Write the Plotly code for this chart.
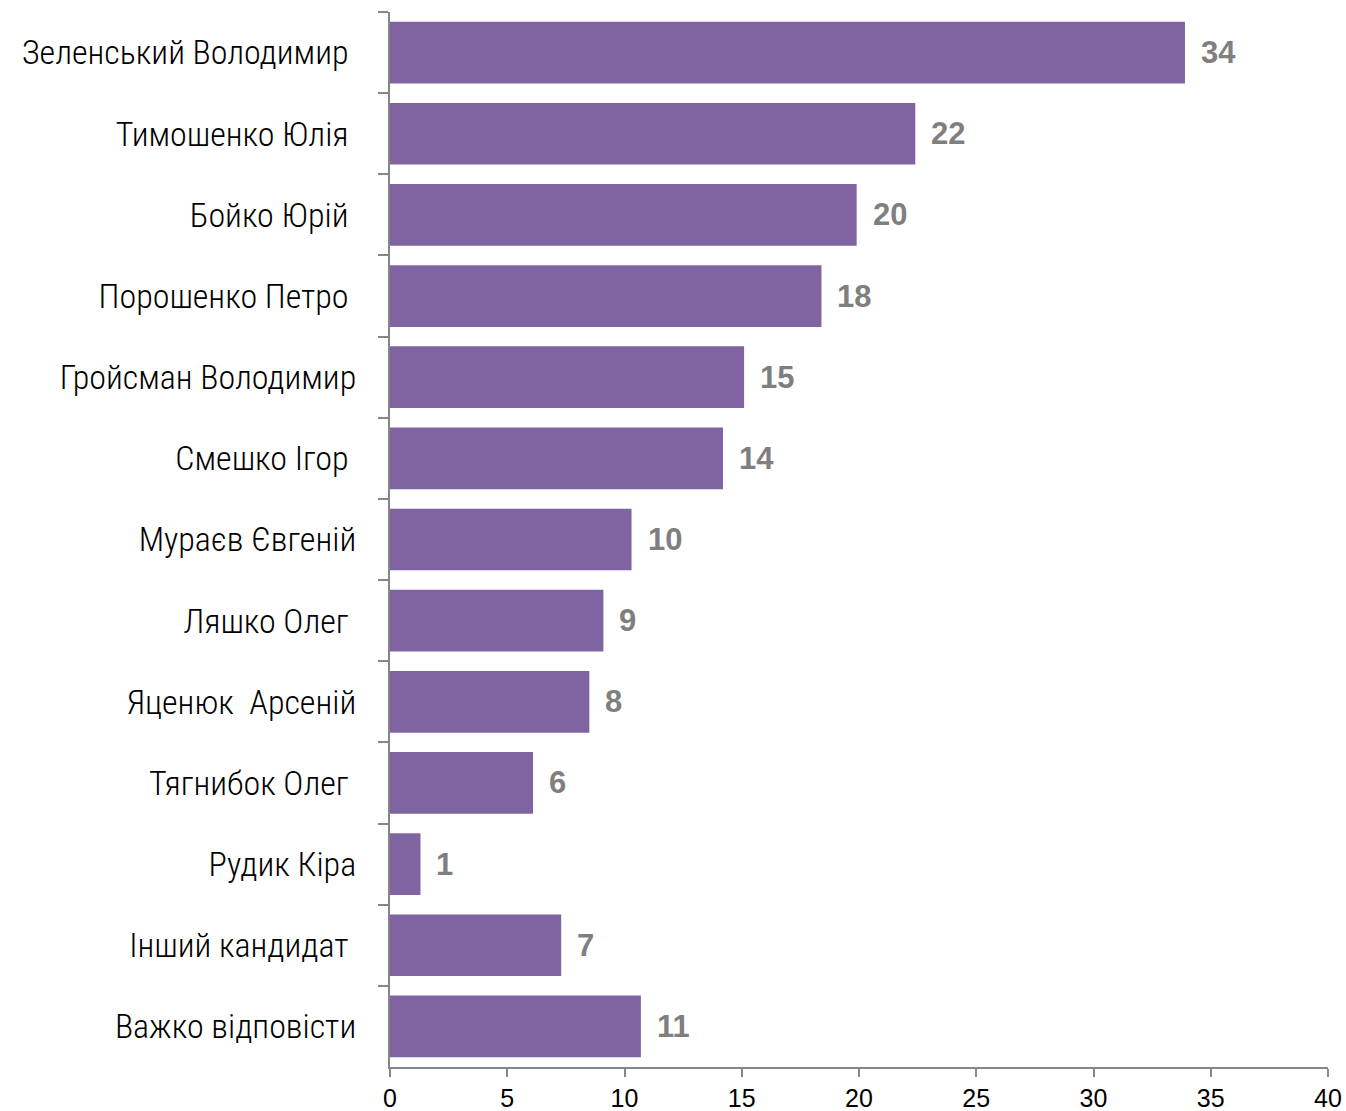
import plotly.graph_objects as go

candidates = [
    "Зеленський Володимир", "Тимошенко Юлія", "Бойко Юрій", "Порошенко Петро",
    "Гройсман Володимир", "Смешко Ігор", "Мураєв Євгеній", "Ляшко Олег",
    "Яценюк  Арсеній", "Тягнибок Олег", "Рудик Кіра", "Інший кандидат",
    "Важко відповісти",
]
values = [33.9, 22.4, 19.9, 18.4, 15.1, 14.2, 10.3, 9.1, 8.5, 6.1, 1.3, 7.3, 10.7]
value_labels = ["34", "22", "20", "18", "15", "14", "10", "9", "8", "6", "1", "7", "11"]
x_ticks = [0, 5, 10, 15, 20, 25, 30, 35, 40]

# labels that end a bit further left in the reference (trailing space)
pad_names = {"Зеленський Володимир", "Тимошенко Юлія", "Бойко Юрій", "Порошенко Петро",
             "Смешко Ігор", "Ляшко Олег", "Тягнибок Олег", "Інший кандидат"}
display = [(c + "\u00a0") if c in pad_names else c for c in candidates]
display = [d.replace("  ", "\u00a0 ") for d in display]

fig = go.Figure()
fig.add_trace(go.Bar(
    x=values, y=display, orientation="h",
    marker=dict(color="#8064A2", line=dict(width=0)),
    hoverinfo="skip",
))

for v, lab, name in zip(values, value_labels, display):
    fig.add_annotation(
        x=v, y=name, text=lab, showarrow=False, xanchor="left", xshift=14,
        font=dict(family="Liberation Sans, Arial, sans-serif", size=31, color="#7F7F7F", weight="bold"),
    )

fig.update_layout(
    width=1346, height=1111,
    margin=dict(l=390, r=18, t=12, b=44),
    paper_bgcolor="#FFFFFF", plot_bgcolor="rgba(0,0,0,0)",
    bargap=0.24,
    showlegend=False,
    xaxis=dict(
        range=[0, 40], tickvals=x_ticks, ticktext=[str(t) for t in x_ticks],
        showgrid=False, zeroline=False, automargin=False,
        showline=True, linecolor="#868686", linewidth=2,
        ticks="outside", ticklen=8, tickwidth=2, tickcolor="#868686",
        tickfont=dict(family="Liberation Sans, Arial, sans-serif", size=25, color="#000000"),
        ticklabelstandoff=0,
    ),
    yaxis=dict(
        categoryorder="array", categoryarray=display, autorange="reversed",
        showgrid=False, zeroline=False, automargin=False,
        showline=True, linecolor="#868686", linewidth=2,
        ticks="outside", tickson="boundaries", ticklen=10, tickwidth=2, tickcolor="#868686",
        tickfont=dict(family="Roboto Condensed, Roboto, sans-serif", size=34, color="#000000", weight=300),
        ticklabelstandoff=25,
    ),
)

fig.write_html(
    "out.html",
    config={"displayModeBar": False},
    post_script="document.body.style.margin='0';document.body.style.overflow='hidden';",
)
